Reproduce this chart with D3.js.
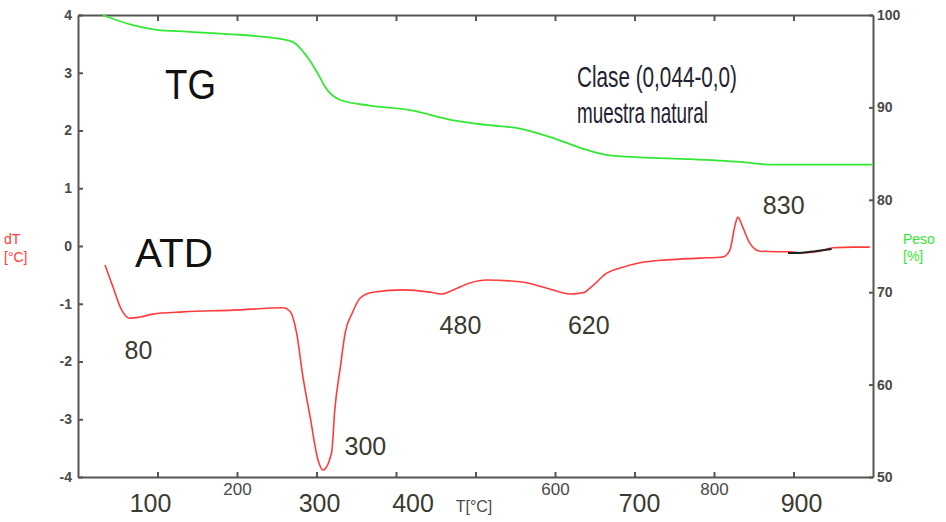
<!DOCTYPE html>
<html>
<head>
<meta charset="utf-8">
<script src="https://cdn.jsdelivr.net/npm/d3@7"></script>
<style>
  html, body { margin: 0; padding: 0; background: #fff; }
  svg { display: block; }
  .axis path, .axis line { stroke: #555; stroke-width: 2; }
  .axis text { fill: #4a4a4a; font-family: "Liberation Sans", Arial, sans-serif; }
</style>
</head>
<body>
<svg id="chart" width="946" height="522"></svg>
<script>
// ---- Data ----
const tgTemp = [31, 69, 99, 137, 195, 238, 270, 288, 304, 311, 330, 367, 418, 472, 514, 556, 597, 640, 669, 707, 770, 833, 874, 1000];
const tgPeso = [100, 98.9, 98.4, 98.2, 97.9, 97.6, 97.1, 95.5, 93.3, 92.2, 90.8, 90.2, 89.7, 88.6, 88.1, 87.7, 86.7, 85.4, 84.8, 84.6, 84.4, 84.1, 83.8, 83.8];

const dtaTemp = [34, 44, 55, 65, 78, 94, 132, 195, 258, 267, 275, 283, 292, 302, 308, 319, 323, 330, 336, 345, 355, 371, 409, 443, 458, 472, 493, 514, 556, 590, 619, 635, 648, 665, 682, 707, 741, 782, 811, 820, 826, 830, 836, 845, 858, 879, 896, 908, 933, 950, 975, 996];
const dtaVal = [-0.33, -0.71, -1.11, -1.25, -1.23, -1.18, -1.14, -1.11, -1.07, -1.14, -1.51, -2.27, -2.96, -3.71, -3.88, -3.58, -2.84, -2.10, -1.51, -1.16, -0.90, -0.80, -0.76, -0.80, -0.83, -0.76, -0.64, -0.59, -0.62, -0.73, -0.83, -0.81, -0.68, -0.47, -0.38, -0.29, -0.24, -0.21, -0.19, -0.07, 0.33, 0.50, 0.33, 0.05, -0.09, -0.10, -0.10, -0.12, -0.09, -0.03, -0.02, -0.02];

const overlapTemp = [893, 908, 927, 948];
const overlapVal = [-0.12, -0.12, -0.09, -0.05];

const xTicks = [100, 200, 300, 400, 500, 600, 700, 800, 900];
const xSmallLabels = [200, 600, 800];
const xBigLabels = [100, 300, 400, 700, 900];
const yLeftTicks = [-4, -3, -2, -1, 0, 1, 2, 3, 4];
const yRightTicks = [50, 60, 70, 80, 90, 100];

const peakLabels = ["80", "300", "480", "620", "830"];
const peakTemps = [80, 300, 480, 620, 830];
const peakVals = [-1.25, -3.88, -0.83, -0.83, 0.50];

// ---- Layout ----
const svg = d3.select("#chart");
const L = 78, R = 873, T = 15, B = 477;

const x = d3.scaleLinear().domain([0, 1000]).range([L, R]);
const yL = d3.scaleLinear().domain([-4, 4]).range([B, T]);
const yR = d3.scaleLinear().domain([50, 100]).range([B, T]);

// axes
svg.append("g").attr("class", "axis").attr("transform", `translate(0,${T})`)
  .call(d3.axisTop(x).tickValues(xTicks).tickSizeInner(-6).tickSizeOuter(0).tickFormat(""));

const bx = svg.append("g").attr("class", "axis").attr("transform", `translate(0,${B})`)
  .call(d3.axisBottom(x).tickValues(xTicks).tickSizeInner(-5).tickSizeOuter(0).tickPadding(6)
    .tickFormat(d => xSmallLabels.includes(d) ? String(d) : ""));
bx.selectAll("text").attr("font-size", 17);

const ly = svg.append("g").attr("class", "axis").attr("transform", `translate(${L},0)`)
  .call(d3.axisLeft(yL).tickValues(yLeftTicks).tickSizeInner(-5).tickSizeOuter(0).tickPadding(6)
    .tickFormat(d => String(d)));
ly.selectAll("text").attr("font-size", 14).attr("font-weight", "bold");

const ry = svg.append("g").attr("class", "axis").attr("transform", `translate(${R},0)`)
  .call(d3.axisRight(yR).tickValues(yRightTicks).tickSizeInner(-4).tickSizeOuter(0).tickPadding(4));
ry.selectAll("text").attr("font-size", 14).attr("font-weight", "bold");

// lines
const tgLine = d3.line().x((d, i) => x(tgTemp[i])).y((d, i) => yR(tgPeso[i])).curve(d3.curveMonotoneX);
svg.append("path").datum(tgPeso).attr("d", tgLine)
  .attr("fill", "none").attr("stroke", "#33e833").attr("stroke-width", 1.8);

const dtaLine = d3.line().x((d, i) => x(dtaTemp[i])).y((d, i) => yL(dtaVal[i])).curve(d3.curveMonotoneX);
svg.append("path").datum(dtaVal).attr("d", dtaLine)
  .attr("fill", "none").attr("stroke", "#ff3b3b").attr("stroke-width", 1.6);

const ovLine = d3.line().x((d, i) => x(overlapTemp[i])).y((d, i) => yL(overlapVal[i]));
svg.append("path").datum(overlapVal).attr("d", ovLine)
  .attr("fill", "none").attr("stroke", "#222").attr("stroke-width", 2);

// big x labels
const bigDx = [-7, 3, 17, 5, 8];
svg.selectAll(".bigx").data(xBigLabels).enter().append("text")
  .attr("x", (d, i) => x(d) + bigDx[i]).attr("y", 512)
  .attr("text-anchor", "middle").attr("font-size", 25)
  .attr("font-family", "Liberation Sans, Arial, sans-serif")
  .attr("fill", "#3a3a30").text(d => d);

svg.append("text").attr("x", 474).attr("y", 512).attr("text-anchor", "middle")
  .attr("font-size", 16).attr("font-family", "Liberation Sans, Arial, sans-serif")
  .attr("fill", "#4a4a4a").text("T[°C]");

// axis titles
const dT = svg.append("text").attr("font-size", 14).attr("fill", "#ff3b3b")
  .attr("font-family", "Liberation Sans, Arial, sans-serif");
dT.append("tspan").attr("x", 4).attr("y", 244).text("dT");
dT.append("tspan").attr("x", 4).attr("y", 262).text("[°C]");

const peso = svg.append("text").attr("font-size", 14).attr("fill", "#33e833")
  .attr("font-family", "Liberation Sans, Arial, sans-serif");
peso.append("tspan").attr("x", 903).attr("y", 244).text("Peso");
peso.append("tspan").attr("x", 903).attr("y", 261).text("[%]");

// curve names
svg.append("text").attr("x", 165).attr("y", 99).attr("font-size", 42)
  .attr("font-family", "Liberation Sans, Arial, sans-serif").attr("fill", "#111")
  .attr("textLength", 51).attr("lengthAdjust", "spacingAndGlyphs").text("TG");
svg.append("text").attr("x", 135).attr("y", 267).attr("font-size", 41)
  .attr("font-family", "Liberation Sans, Arial, sans-serif").attr("fill", "#111")
  .attr("textLength", 78).attr("lengthAdjust", "spacingAndGlyphs").text("ATD");

// sample info
svg.append("text").attr("x", 577).attr("y", 87).attr("font-size", 30)
  .attr("font-family", "Liberation Sans Narrow, Arial Narrow, sans-serif").attr("fill", "#222230")
  .attr("textLength", 160).attr("lengthAdjust", "spacingAndGlyphs").text("Clase (0,044-0,0)");
svg.append("text").attr("x", 577).attr("y", 123).attr("font-size", 29)
  .attr("font-family", "Liberation Sans Narrow, Arial Narrow, sans-serif").attr("fill", "#222230")
  .attr("textLength", 131).attr("lengthAdjust", "spacingAndGlyphs").text("muestra natural");

// peak labels
const peakDx = [-17, 28, -20, -3, 25];
const peakDy = [41, -15, 40, 40, -3];
svg.selectAll(".peak").data(peakLabels).enter().append("text")
  .attr("x", (d, i) => x(peakTemps[i]) + peakDx[i]).attr("y", (d, i) => yL(peakVals[i]) + peakDy[i])
  .attr("font-size", 25).attr("font-family", "Liberation Sans, Arial, sans-serif")
  .attr("fill", "#3a3a30").text(d => d);
</script>
</body>
</html>
